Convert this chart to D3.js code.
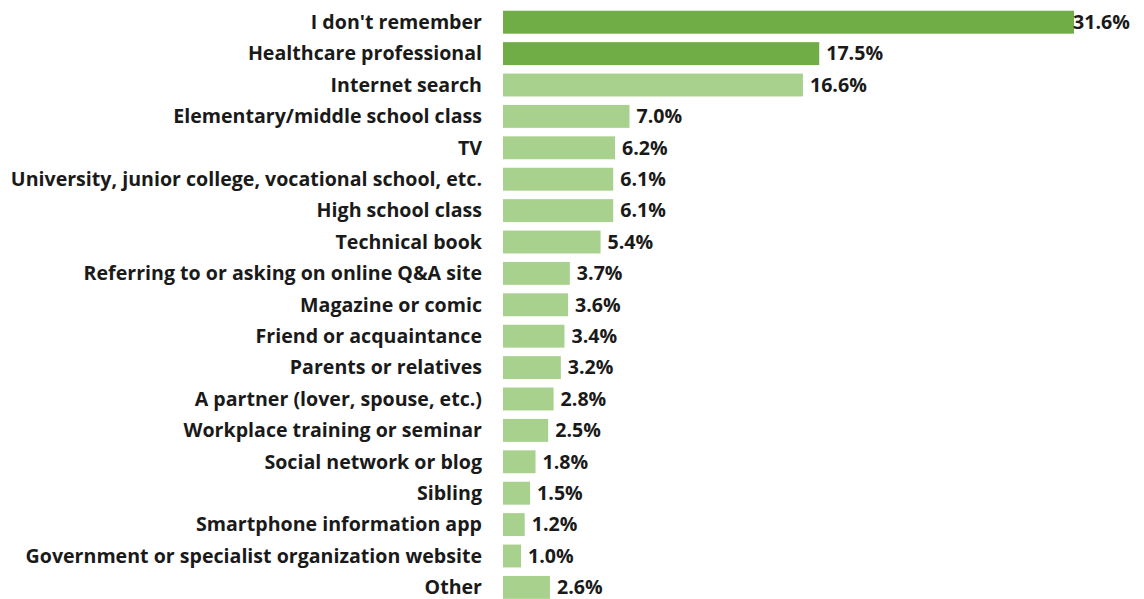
<!DOCTYPE html>
<html>
<head>
<meta charset="utf-8">
<script src="https://cdn.jsdelivr.net/npm/d3@7"></script>
<style>
  html, body { margin: 0; padding: 0; background: #ffffff; }
  svg { display: block; }
  text { font-family: "Open Sans", Lato, sans-serif; font-weight: 700; fill: #1a1a1a; }
</style>
</head>
<body>
<svg id="chart" width="1144" height="599"></svg>
<script>
// Where respondents first learned about the topic (share of respondents, %)
const categories = [
  "I don't remember",
  "Healthcare professional",
  "Internet search",
  "Elementary/middle school class",
  "TV",
  "University, junior college, vocational school, etc.",
  "High school class",
  "Technical book",
  "Referring to or asking on online Q&A site",
  "Magazine or comic",
  "Friend or acquaintance",
  "Parents or relatives",
  "A partner (lover, spouse, etc.)",
  "Workplace training or seminar",
  "Social network or blog",
  "Sibling",
  "Smartphone information app",
  "Government or specialist organization website",
  "Other"
];
const values = [31.6, 17.5, 16.6, 7.0, 6.2, 6.1, 6.1, 5.4, 3.7, 3.6, 3.4, 3.2, 2.8, 2.5, 1.8, 1.5, 1.2, 1.0, 2.6];
// The two leading answers are highlighted
const highlighted = ["I don't remember", "Healthcare professional"];

const svg = d3.select("#chart");
const plotLeft = 503;
const plotTop = 6.5;
const rowStep = 31.4;
const fontSize = 19.6;

const x = d3.scaleLinear().domain([0, 31.6]).range([plotLeft, 1074]);
const y = d3.scaleBand()
  .domain(categories)
  .range([plotTop, plotTop + rowStep * categories.length])
  .paddingInner(0.27)
  .paddingOuter(0.135);

const rows = categories.map((c, i) => ({ cat: c, val: values[i] }));

svg.append("g").selectAll("rect")
  .data(rows)
  .join("rect")
  .attr("x", x(0))
  .attr("y", d => y(d.cat))
  .attr("width", d => x(d.val) - x(0))
  .attr("height", y.bandwidth())
  .attr("fill", d => highlighted.includes(d.cat) ? "#70ad47" : "#a9d18e");

// Category labels, right-aligned against the bars
svg.append("g").selectAll("text")
  .data(rows)
  .join("text")
  .attr("x", plotLeft - 21)
  .attr("y", d => y(d.cat) + y.bandwidth() / 2)
  .attr("dy", "0.35em")
  .attr("text-anchor", "end")
  .attr("font-size", fontSize)
  .text(d => d.cat);

// Value labels at the end of each bar
svg.append("g").selectAll("text")
  .data(rows)
  .join("text")
  .attr("x", d => x(d.val) + (d.val > 30 ? -1 : 7))
  .attr("y", d => y(d.cat) + y.bandwidth() / 2)
  .attr("dy", "0.35em")
  .attr("font-size", fontSize)
  .text(d => d.val.toFixed(1) + "%");
</script>
</body>
</html>
